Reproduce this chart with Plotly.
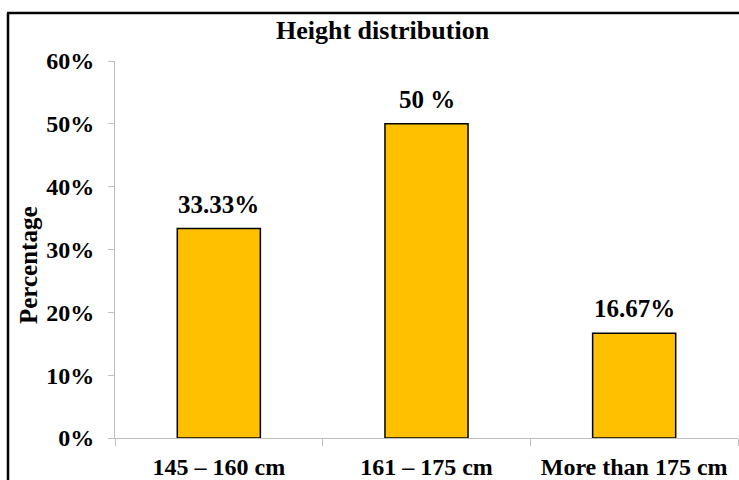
import plotly.graph_objects as go

categories = ["145 – 160 cm", "161 – 175 cm", "More than 175 cm"]
values = [33.33, 50, 16.67]
value_labels = ["33.33%", "50 %", "16.67%"]
y_ticks = [0, 10, 20, 30, 40, 50, 60]
y_tick_labels = ["0%", "10%", "20%", "30%", "40%", "50%", "60%"]

FONT = "Liberation Serif, Times New Roman, serif"

fig = go.Figure()
fig.add_trace(go.Bar(
    x=categories, y=values,
    marker=dict(color="#FFC000", line=dict(color="black", width=1.5)),
    width=0.4,
    hoverinfo="skip",
))

for c, v, t in zip(categories, values, value_labels):
    fig.add_annotation(x=c, y=v, text="<b>%s</b>" % t, showarrow=False,
                       yanchor="bottom", yshift=9,
                       font=dict(family=FONT, size=25, color="black"))

# plot area: x 115..738, y 61..438 in pixels
L, R, T, B = 115, 1, 61, 42
W, H = 739, 480
pw = W - L - R
ph = H - T - B

def px_x(p):
    return (p - L) / pw

def px_y(p):
    return (H - B - p) / ph

fig.update_layout(
    width=W, height=H,
    margin=dict(l=L, r=R, t=T, b=B),
    paper_bgcolor="white", plot_bgcolor="white",
    showlegend=False,
    font=dict(family=FONT, color="black"),
    xaxis=dict(
        showline=True, linecolor="#BFBFBF", linewidth=1,
        ticks="outside", tickson="boundaries", ticklen=7, tickcolor="#BFBFBF",
        tickfont=dict(family=FONT, size=24, color="black"),
        ticklabelstandoff=7,
        showgrid=False, zeroline=False,
    ),
    yaxis=dict(
        range=[0, 60], tickvals=y_ticks, ticktext=["<b>%s</b>" % t for t in y_tick_labels],
        showline=True, linecolor="#BFBFBF", linewidth=1,
        ticks="outside", ticklen=6, tickcolor="#BFBFBF",
        tickfont=dict(family=FONT, size=24, color="black"),
        ticklabelstandoff=9,
        showgrid=False, zeroline=False,
    ),
)
fig.update_xaxes(ticktext=["<b>%s</b>" % c for c in categories], tickvals=categories)

# title
fig.add_annotation(xref="paper", yref="paper", x=px_x(383), y=px_y(31),
                   text="<b>Height distribution</b>", showarrow=False,
                   xanchor="center", yanchor="middle",
                   font=dict(family=FONT, size=26, color="black"))
# y axis title
fig.add_annotation(xref="paper", yref="paper", x=px_x(28), y=px_y(265),
                   text="<b>Percentage</b>", showarrow=False, textangle=-90,
                   xanchor="center", yanchor="middle",
                   font=dict(family=FONT, size=25, color="black"))

# outer chart border (left and top visible)
fig.add_shape(type="line", xref="paper", yref="paper",
              x0=px_x(8), x1=px_x(8), y0=px_y(13), y1=px_y(490),
              line=dict(color="black", width=2.5))
fig.add_shape(type="line", xref="paper", yref="paper",
              x0=px_x(7), x1=px_x(745), y0=px_y(13), y1=px_y(13),
              line=dict(color="black", width=2.5))

fig.write_html("out.html")
